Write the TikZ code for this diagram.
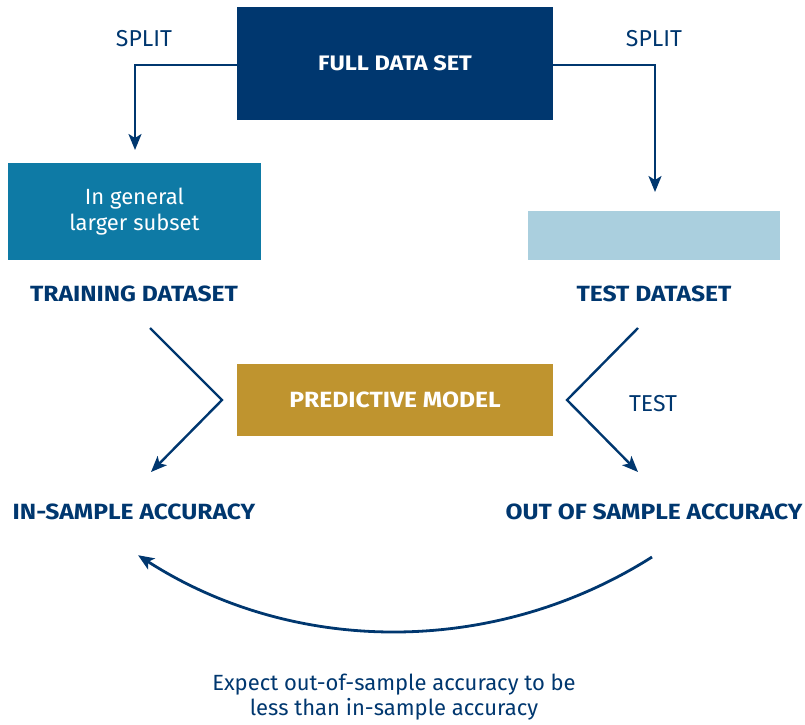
\documentclass[tikz,border=0pt]{standalone}
\usepackage{fontspec}
\setmainfont{Fira Sans}
\newfontfamily\widefont[FakeStretch=1.12]{Fira Sans}
\usetikzlibrary{arrows.meta}
\definecolor{navy}{HTML}{00376F}
\definecolor{teal}{HTML}{0E7AA5}
\definecolor{lightb}{HTML}{AACFDE}
\definecolor{gold}{HTML}{BF942F}
\tikzset{
  box/.style={draw=none,inner sep=0pt,text=white,font=\widefont\fontsize{22}{26}\selectfont\bfseries,align=center},
  lbl/.style={text=navy,font=\widefont\fontsize{22}{26}\selectfont\bfseries,inner sep=0pt,align=center},
  slbl/.style={text=navy,font=\fontsize{23}{26}\selectfont,inner sep=0pt,align=center},
  arr/.style={draw=navy,line width=2.4pt,-{Stealth[length=16pt,width=13pt,inset=4pt]}},
}
\begin{document}
\begin{tikzpicture}[x=1pt,y=1pt]
\useasboundingbox (0,0) rectangle (805,-724);
% boxes
\node[box,fill=navy,minimum width=316pt,minimum height=113pt,font=\widefont\fontsize{21}{26}\selectfont\bfseries] (full) at (395,-63.5) {FULL DATA SET};
\node[box,fill=teal,minimum width=253pt,minimum height=97pt,font=\fontsize{22}{26}\selectfont] (train) at (134.5,-211.5) {In general\\larger subset};
\node[box,fill=lightb,minimum width=252pt,minimum height=49pt] (test) at (654,-235.5) {};
\node[box,fill=gold,minimum width=316pt,minimum height=72pt] (model) at (395,-400) {PREDICTIVE MODEL};
% labels
\node[slbl] (splitL) at (144,-39) {SPLIT};
\node[slbl] (splitR) at (654,-39) {SPLIT};
\node[lbl] (trainL) at (134,-294) {TRAINING DATASET};
\node[lbl] (testL) at (654,-294) {TEST DATASET};
\node[slbl] (testlbl) at (653,-404) {TEST};
\node[lbl] (inacc) at (134,-512) {IN-SAMPLE ACCURACY};
\node[lbl] (outacc) at (654,-512) {OUT OF SAMPLE ACCURACY};
\node[slbl,font=\fontsize{22}{25}\selectfont] (note) at (394,-697) {Expect out-of-sample accuracy to be\\less than in-sample accuracy};
% split connectors
\coordinate (tL) at (135,-150);
\coordinate (tR) at (655,-192);
\draw[arr] (full.west |- 0,-65) -| (tL);
\draw[arr] (full.east |- 0,-65) -| (tR);
% chevrons
\coordinate (lS) at (150,-328);
\coordinate (lA) at (222,-400);
\coordinate (lE) at (151,-472);
\coordinate (rS) at (638,-328);
\coordinate (rA) at (567,-400);
\coordinate (rE) at (638,-472);
\draw[arr] (lS) -- (lA) -- (lE);
\draw[arr] (rS) -- (rA) -- (rE);
% curved arrow
\coordinate (cS) at (652,-557);
\draw[arr,line width=2.8pt] (cS) arc[start angle=-57.6,end angle=-122.8,radius=477pt];
\end{tikzpicture}
\end{document}
